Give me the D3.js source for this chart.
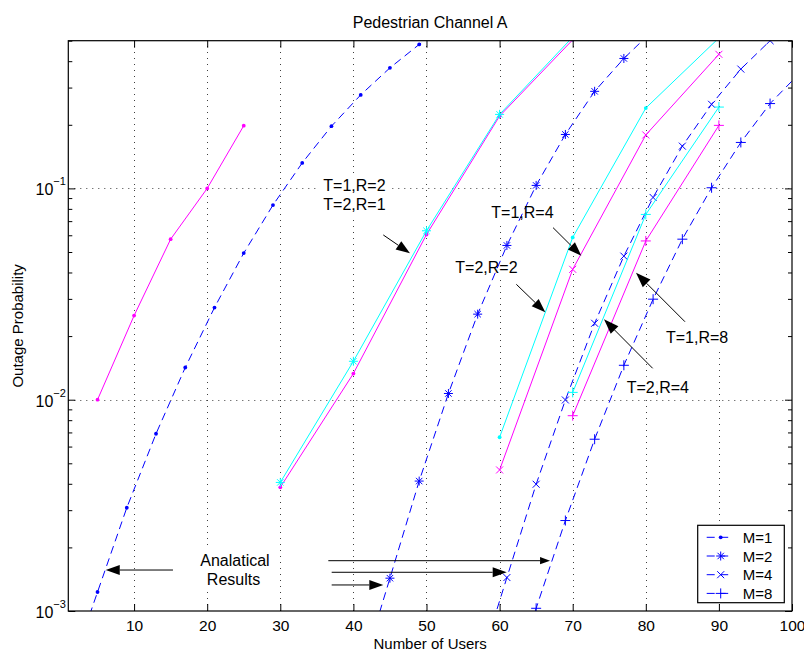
<!DOCTYPE html>
<html><head><meta charset="utf-8">
<script src="https://cdn.jsdelivr.net/npm/d3@7"></script>
<style>
body{margin:0;background:#fff}
svg{display:block}
text{font-family:"Liberation Sans",Arial,Helvetica,sans-serif;fill:#000}
</style>
</head><body>
<svg id="chart" width="804" height="652"></svg>
<script>
// ---------------- data ----------------
const titleText = "Pedestrian Channel A";
const xLabelText = "Number of Users";
const yLabelText = "Outage Probability";
const xTickValues = [10,20,30,40,50,60,70,80,90,100];
const yTickValues = [1e-3,1e-2,1e-1];
const yTickExponents = ["\u22123","\u22122","\u22121"];

// simulation curves (solid)
const t1r1X = [5,10,15,20,25];
const t1r1Y = [0.0100,0.0250,0.0575,0.1000,0.1980];
const t1r2X = [30,40,50,60,70];
const t1r2Y = [0.00406,0.0152,0.0630,0.2240,0.5200];
const t2r1X = [30,40,50,60,70];
const t2r1Y = [0.00385,0.0133,0.0605,0.2200,0.5050];
const t1r4X = [60,70,80,90];
const t1r4Y = [0.00664,0.0586,0.2400,0.5150];
const t2r2X = [60,70,80,90];
const t2r2Y = [0.00465,0.0414,0.1790,0.4310];
const t1r8X = [70,80,90];
const t1r8Y = [0.01083,0.0753,0.2426];
const t2r4X = [70,80,90];
const t2r4Y = [0.0084,0.0564,0.1987];

// analytical curves (dashed)
const m1X = [1,5,9,13,17,21,25,29,33,37,41,45,49,53];
const m1Y = [0.00049,0.00123,0.00308,0.0069,0.0142,0.0273,0.0494,0.0834,0.132,0.197,0.277,0.372,0.480,0.600];
const m2X = [41,45,49,53,57,61,65,69,73,77,81];
const m2Y = [0.00050,0.00143,0.00412,0.0107,0.0254,0.0537,0.1033,0.180,0.288,0.412,0.560];
const m4X = [57,61,65,69,73,77,81,85,89,93,97,101];
const m4Y = [0.00052,0.00144,0.00398,0.00997,0.0230,0.0478,0.0906,0.1585,0.250,0.367,0.500,0.660];
const m8X = [61,65,69,73,77,81,85,89,93,97,101];
const m8Y = [0.00039,0.00103,0.00268,0.0065,0.01455,0.0299,0.0575,0.1007,0.165,0.252,0.350];

const legendLabels = ["M=1","M=2","M=4","M=8"];
const legendMarkers = ["dot","star","x","plus"];

// annotations (data coordinates)
const labelTexts = ["T=1,R=2","T=2,R=1","T=1,R=4","T=2,R=2","T=1,R=8","T=2,R=4","Analatical","Results"];
const labelX = [35.88,35.88,58.87,53.94,82.76,77.39,23.8,23.6];
const labelY = [0.0967,0.0788,0.0726,0.0397,0.01859,0.01078,0.001641,0.00133];
const labelAnchor = ["start","start","start","start","start","start","middle","middle"];
const arrowFromX = [44.09,67.31,62.29,85.36,80.94,15.32,36.57,37.03,37.03];
const arrowFromY = [0.0602,0.0652,0.03516,0.02339,0.01408,0.001563,0.00173,0.001525,0.001328];
const arrowToX   = [47.74,71.18,66.25,78.66,74.28,6.12,66.9,60.97,44.09];
const arrowToY   = [0.0493,0.0480,0.02592,0.0399,0.0240,0.001563,0.00173,0.001525,0.001328];
const arrowHeadLen = [14,14,14,15,15,14,10,14,14];

// ---------------- layout ----------------
const svg = d3.select("#chart");
const X0 = 68.3, X1 = 792, Y0 = 611, Y1 = 40.7;
const x = d3.scaleLinear().domain([1,100]).range([X0,X1]);
const y = d3.scaleLog().domain([1e-3,0.5]).range([Y0,Y1]);

const BLUE = "#0000ff", MAG = "#ff00ff", CYAN = "#00ffff";

const simSeries = [
  {xs:t1r1X, ys:t1r1Y, color:MAG, marker:"dot"},
  {xs:t2r1X, ys:t2r1Y, color:MAG, marker:"dot"},
  {xs:t1r2X, ys:t1r2Y, color:CYAN, marker:"star"},
  {xs:t2r2X, ys:t2r2Y, color:MAG, marker:"x"},
  {xs:t1r4X, ys:t1r4Y, color:CYAN, marker:"dot"},
  {xs:t2r4X, ys:t2r4Y, color:MAG, marker:"plus"},
  {xs:t1r8X, ys:t1r8Y, color:CYAN, marker:"plus"}
];
const anaSeries = [
  {xs:m1X, ys:m1Y, color:BLUE, marker:"dot"},
  {xs:m2X, ys:m2Y, color:BLUE, marker:"star"},
  {xs:m4X, ys:m4Y, color:BLUE, marker:"x"},
  {xs:m8X, ys:m8Y, color:BLUE, marker:"plus"}
];

const markerPaths = {
  star: "M-4.5,0H4.5M0,-4.5V4.5M-3.2,-3.2L3.2,3.2M-3.2,3.2L3.2,-3.2",
  x: "M-3.5,-3.5L3.5,3.5M-3.5,3.5L3.5,-3.5",
  plus: "M-5,0H5M0,-5V5"
};
function drawMarker(g, px, py, type, color){
  if(type === "dot"){
    g.append("circle").attr("cx",px).attr("cy",py).attr("r",1.9).attr("fill",color);
  } else {
    g.append("path").attr("d",markerPaths[type]).attr("transform",`translate(${px},${py})`)
      .attr("stroke",color).attr("stroke-width",1).attr("fill","none");
  }
}

svg.append("defs").append("clipPath").attr("id","plotclip")
  .append("rect").attr("x",X0).attr("y",Y1).attr("width",X1-X0).attr("height",Y0-Y1);

// grid
const grid = svg.append("g").attr("stroke","#000").attr("stroke-width",1)
  .attr("stroke-dasharray","1,5").attr("opacity",0.75);
xTickValues.filter(v=>v<100).forEach(v=>{
  grid.append("line").attr("x1",Math.round(x(v))+0.5).attr("x2",Math.round(x(v))+0.5)
    .attr("y1",Y0).attr("y2",Y1);
});
yTickValues.filter(v=>v>1e-3).forEach(v=>{
  grid.append("line").attr("y1",Math.round(y(v))+0.5).attr("y2",Math.round(y(v))+0.5)
    .attr("x1",X0).attr("x2",X1);
});

const bgLayer = svg.append("g");
const dataLayer = svg.append("g").attr("clip-path","url(#plotclip)");
const annLayer = svg.append("g");

const line = d3.line().x(d=>x(d[0])).y(d=>y(d[1]));

anaSeries.forEach(s=>{
  const pts = s.xs.map((v,i)=>[v,s.ys[i]]);
  dataLayer.append("path").attr("d",line(pts)).attr("fill","none")
    .attr("stroke",s.color).attr("stroke-width",1).attr("stroke-dasharray","8,5");
  pts.forEach(p=>drawMarker(dataLayer,x(p[0]),y(p[1]),s.marker,s.color));
});
simSeries.forEach(s=>{
  const pts = s.xs.map((v,i)=>[v,s.ys[i]]);
  dataLayer.append("path").attr("d",line(pts)).attr("fill","none")
    .attr("stroke",s.color).attr("stroke-width",1);
  pts.forEach(p=>drawMarker(dataLayer,x(p[0]),y(p[1]),s.marker,s.color));
});

// annotation text with white backgrounds (hide grid)
labelTexts.forEach((t,i)=>{
  const tx = annLayer.append("text").attr("x",x(labelX[i])).attr("y",y(labelY[i]))
    .attr("text-anchor",labelAnchor[i]).attr("font-size",16).text(t);
  const b = tx.node().getBBox();
  bgLayer.append("rect").attr("x",b.x-4).attr("y",b.y-2).attr("width",b.width+8)
    .attr("height",b.height+4).attr("fill","#fff");
});

// arrows
arrowFromX.forEach((fx,i)=>{
  const x1 = x(fx), y1 = y(arrowFromY[i]), x2 = x(arrowToX[i]), y2 = y(arrowToY[i]);
  const dx = x2-x1, dy = y2-y1, L = Math.hypot(dx,dy);
  const ux = dx/L, uy = dy/L;
  const hl = arrowHeadLen[i], hw = hl*0.36;
  const bx = x2-ux*hl, by = y2-uy*hl;
  annLayer.append("line").attr("x1",x1).attr("y1",y1).attr("x2",bx).attr("y2",by)
    .attr("stroke","#000").attr("stroke-width",1);
  annLayer.append("path")
    .attr("d",`M${x2},${y2}L${bx-uy*hw},${by+ux*hw}L${bx+uy*hw},${by-ux*hw}Z`)
    .attr("fill","#000");
});

// axes frame
svg.append("rect").attr("x",X0).attr("y",Y1).attr("width",X1-X0).attr("height",Y0-Y1)
  .attr("fill","none").attr("stroke","#000").attr("stroke-width",1.2);

// x ticks (bottom + top)
const xAxisB = d3.axisBottom(x).tickValues(xTickValues).tickSizeInner(-7).tickSizeOuter(0).tickPadding(9);
const gxb = svg.append("g").attr("transform",`translate(0,${Y0})`).call(xAxisB);
gxb.select(".domain").remove();
gxb.selectAll("text").attr("font-size",15.5).attr("font-family","Liberation Sans, Arial, sans-serif").attr("fill","#000");
gxb.selectAll("line").attr("stroke","#000");
const xAxisT = d3.axisTop(x).tickValues(xTickValues).tickSizeInner(-7).tickSizeOuter(0).tickFormat("");
const gxt = svg.append("g").attr("transform",`translate(0,${Y1})`).call(xAxisT);
gxt.select(".domain").remove();
gxt.selectAll("line").attr("stroke","#000");

// y ticks major & minor (left + right)
const minorVals = [];
[1e-3,1e-2,1e-1].forEach(d=>{ for(let k=2;k<=9;k++){ const v=d*k; if(v<=0.5) minorVals.push(v);} });
const yAxisL = d3.axisLeft(y).tickValues(yTickValues).tickSizeInner(-7).tickSizeOuter(0).tickFormat("");
const gyl = svg.append("g").attr("transform",`translate(${X0},0)`).call(yAxisL);
gyl.select(".domain").remove(); gyl.selectAll("line").attr("stroke","#000");
const yAxisR = d3.axisRight(y).tickValues(yTickValues).tickSizeInner(-7).tickSizeOuter(0).tickFormat("");
const gyr = svg.append("g").attr("transform",`translate(${X1},0)`).call(yAxisR);
gyr.select(".domain").remove(); gyr.selectAll("line").attr("stroke","#000");
const yMinL = d3.axisLeft(y).tickValues(minorVals).tickSizeInner(-4).tickSizeOuter(0).tickFormat("");
const gml = svg.append("g").attr("transform",`translate(${X0},0)`).call(yMinL);
gml.select(".domain").remove(); gml.selectAll("line").attr("stroke","#000");
const yMinR = d3.axisRight(y).tickValues(minorVals).tickSizeInner(-4).tickSizeOuter(0).tickFormat("");
const gmr = svg.append("g").attr("transform",`translate(${X1},0)`).call(yMinR);
gmr.select(".domain").remove(); gmr.selectAll("line").attr("stroke","#000");

// y tick labels 10^{-n}
yTickValues.forEach((v,i)=>{
  const t = svg.append("text").attr("x",X0-15).attr("y",y(v)+7).attr("text-anchor","end").attr("font-size",16);
  t.append("tspan").text("10");
  svg.append("text").attr("x",X0-15).attr("y",y(v)-3).attr("font-size",11).text(yTickExponents[i]);
});

// title & labels
svg.append("text").attr("x",(X0+X1)/2).attr("y",28).attr("text-anchor","middle").attr("font-size",16).text(titleText);
svg.append("text").attr("x",(X0+X1)/2).attr("y",649).attr("text-anchor","middle").attr("font-size",15).text(xLabelText);
svg.append("text").attr("transform",`translate(23,${(Y0+Y1)/2}) rotate(-90)`).attr("text-anchor","middle")
  .attr("font-size",15).text(yLabelText);

// legend
const LX = 697.7, LY = 525.3, LW = 86.6, LH = 77.4;
const leg = svg.append("g");
leg.append("rect").attr("x",LX).attr("y",LY).attr("width",LW).attr("height",LH)
  .attr("fill","#fff").attr("stroke","#000").attr("stroke-width",1.2);
legendLabels.forEach((lab,i)=>{
  const cy = LY + 12 + i*18.7;
  leg.append("line").attr("x1",LX+9).attr("x2",LX+37).attr("y1",cy).attr("y2",cy)
    .attr("stroke",BLUE).attr("stroke-width",1).attr("stroke-dasharray","8,5.5,8");
  drawMarker(leg, LX+23, cy, legendMarkers[i], BLUE);
  leg.append("text").attr("x",LX+45).attr("y",cy+5.5).attr("font-size",15).text(lab);
});
</script>
</body></html>
